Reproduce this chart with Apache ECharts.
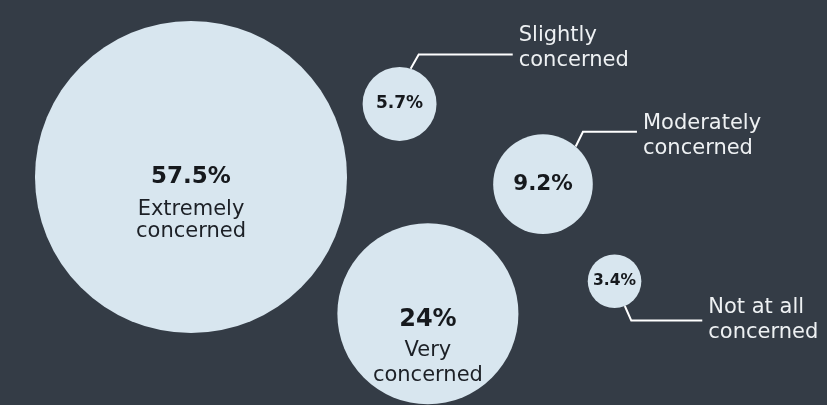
<!DOCTYPE html>
<html>
<head>
<meta charset="utf-8">
<script src="https://cdn.jsdelivr.net/npm/echarts@6/dist/echarts.min.js"></script>
<style>
  html, body { margin: 0; padding: 0; background: #343c46; }
  #chart { width: 827px; height: 405px; }
</style>
</head>
<body>
<div id="chart"></div>
<script>
// ---- data ----
const categories = ['Extremely concerned', 'Very concerned', 'Slightly concerned', 'Moderately concerned', 'Not at all concerned'];
const values = [57.5, 24, 5.7, 9.2, 3.4];
const valueLabels = ['57.5%', '24%', '5.7%', '9.2%', '3.4%'];

// ---- layout (packed-bubble placement, not data) ----
const W = 827, H = 405;
function radius(v) { return 12.5 * Math.pow(v, 0.623); }
const placement = [
  { x: 191, y: 177 },
  { anchor: 0, angle: 30, gap: 27 },
  { anchor: 0, angle: -19.3, gap: 28 },
  { anchor: 1, angle: -48.4, gap: 33 },
  { anchor: 3, angle: 53.6, gap: 44 }
];
const inside = [true, true, false, false, false];
const pctFont = [23, 24, 17, 21.5, 15.5];
const insideOffset = [22, 31, 0, 0, 0];
const pLineH = [44, 36, 30, 30, 30];
const nLineH = [22, 25, 22, 22, 22];
const leaders = [
  { index: 2, angle: -72.6, elbowAngle: -68.8, run: 94, dy: -7 },
  { index: 3, angle: -49, elbowAngle: -52.6, run: 54, dy: 4 },
  { index: 4, angle: 67.5, elbowAngle: 67, run: 71, dy: -0.5 }
];

const pos = [];
placement.forEach((p, i) => {
  if (p.anchor === undefined) { pos.push({ x: p.x, y: p.y }); return; }
  const a = pos[p.anchor];
  const d = radius(values[p.anchor]) + radius(values[i]) + p.gap;
  const t = p.angle * Math.PI / 180;
  pos.push({ x: a.x + d * Math.cos(t), y: a.y + d * Math.sin(t) });
});

function splitName(n) {
  const k = n.lastIndexOf(' ');
  return [n.slice(0, k), n.slice(k + 1)];
}

const FONT = '"DejaVu Sans", sans-serif';

const bubbleData = values.map((v, i) => {
  const parts = splitName(categories[i]);
  const fmt = inside[i]
    ? '{p|' + valueLabels[i] + '}\n{n|' + parts[0] + '}\n{n|' + parts[1] + '}'
    : '{p|' + valueLabels[i] + '}';
  return {
    name: categories[i],
    value: [pos[i].x, pos[i].y, v],
    label: {
      show: true,
      position: 'inside',
      offset: [0, insideOffset[i]],
      formatter: fmt,
      rich: {
        p: { fontFamily: FONT, fontWeight: 'bold', fontSize: pctFont[i], color: '#16191d', lineHeight: pLineH[i], align: 'center' },
        n: { fontFamily: FONT, fontSize: 21, color: '#1c2026', lineHeight: nLineH[i], align: 'center' }
      }
    }
  };
});

const chart = echarts.init(document.getElementById('chart'));
chart.setOption({
  backgroundColor: '#343c46',
  animation: false,
  grid: { left: 0, right: 0, top: 0, bottom: 0 },
  xAxis: { type: 'value', min: 0, max: W, show: false },
  yAxis: { type: 'value', min: 0, max: H, inverse: true, show: false },
  series: [
    {
      type: 'scatter',
      symbol: 'circle',
      symbolSize: (val) => 2 * radius(val[2]),
      itemStyle: { color: '#d8e6ef', opacity: 1 },
      silent: true,
      data: bubbleData
    },
    {
      type: 'custom',
      silent: true,
      data: leaders.map((l) => [pos[l.index].x, pos[l.index].y, values[l.index]]),
      renderItem: function (params, api) {
        const L = leaders[params.dataIndex];
        const c = api.coord([api.value(0), api.value(1)]);
        const r = radius(api.value(2));
        const t1 = L.angle * Math.PI / 180, t2 = L.elbowAngle * Math.PI / 180;
        const s = [c[0] + r * Math.cos(t1), c[1] + r * Math.sin(t1)];
        const e = [c[0] + (r + 16) * Math.cos(t2), c[1] + (r + 16) * Math.sin(t2)];
        const f = [e[0] + L.run, e[1]];
        const parts = splitName(categories[L.index]);
        return {
          type: 'group',
          children: [
            { type: 'polyline', shape: { points: [s, e, f] }, style: { stroke: '#ffffff', lineWidth: 2, fill: null } },
            { type: 'text', style: { text: parts[0] + '\n' + parts[1], x: f[0] + 6, y: f[1] + L.dy, fill: '#eef1f3', fontFamily: FONT, fontSize: 21, lineHeight: 25, align: 'left', verticalAlign: 'middle' } }
          ]
        };
      }
    }
  ]
});
</script>
</body>
</html>
